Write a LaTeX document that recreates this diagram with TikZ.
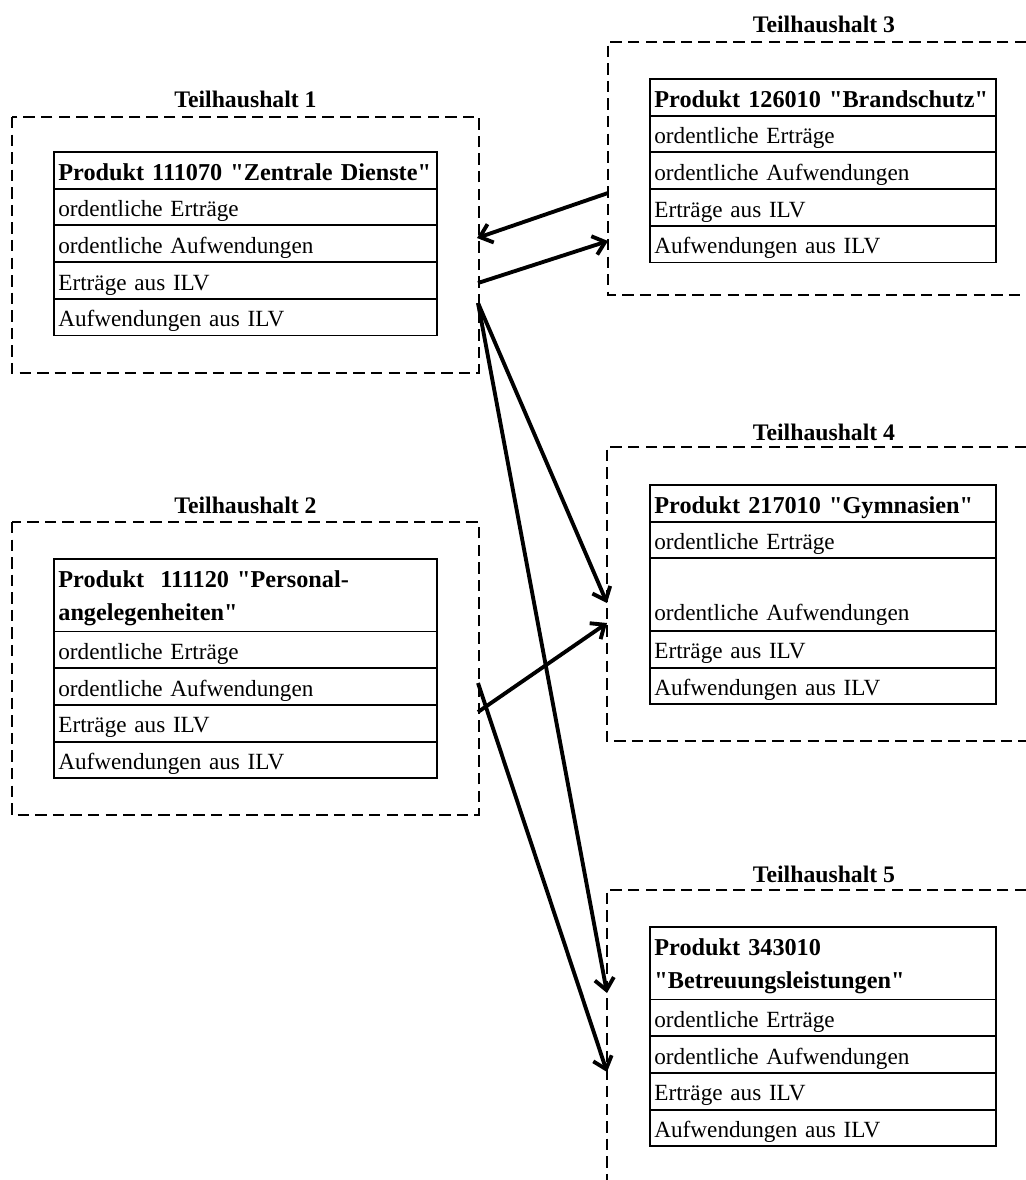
\documentclass[tikz,border=0pt]{standalone}
\usepackage{fontspec}
\setmainfont{Liberation Serif}[Ligatures=TeXOff]
\usetikzlibrary{positioning,arrows.meta}

\tikzset{
  thframe/.style={line width=1.6pt, dash pattern=on 6.5pt off 3.5pt},
  thlabel/.style={font=\bfseries\fontsize{13.5}{16}\selectfont, anchor=base},
  row/.style={draw, line width=1.1pt, outer sep=0pt, inner xsep=2.5pt,
    minimum height=0.734cm, text height=11.5pt, text depth=0.5pt,
    align=left, font=\fontsize{13.2}{19}\selectfont},
  wide/.style={row, text width=7.484cm},
  narrow/.style={row, text width=6.744cm},
  head/.style={font=\bfseries\fontsize{13.8}{19}\selectfont},
  tall/.style={minimum height=1.45cm, text height=11pt, text depth=20pt},
  flow/.style={line width=2.2pt, -{Straight Barb[length=6.5pt,width=11pt]}},
}

\begin{document}
\begin{tikzpicture}[x=0.02cm, y=-0.02cm]
  \useasboundingbox (0,0) rectangle (1026,1180);

  % Teilhaushalt 1
  \draw[thframe] (12,117) rectangle (479,373);
  \node[thlabel] (l1) at (245.5,107) {Teilhaushalt 1};
  \node[wide, head, anchor=north west] (p1h) at (54,152) {Produkt 111070 "Zentrale Dienste"};
  \node[wide, below=0pt of p1h] (p1a) {ordentliche Erträge};
  \node[wide, below=0pt of p1a] (p1b) {ordentliche Aufwendungen};
  \node[wide, below=0pt of p1b] (p1c) {Erträge aus ILV};
  \node[wide, below=0pt of p1c] (p1d) {Aufwendungen aus ILV};

  % Teilhaushalt 2
  \draw[thframe] (12,522) rectangle (479,815);
  \node[thlabel] (l2) at (245.5,513) {Teilhaushalt 2};
  \node[wide, head, tall, anchor=north west] (p2h) at (54,559) {Produkt\ \ 111120 "Personal-\\angelegenheiten"};
  \node[wide, below=0pt of p2h] (p2a) {ordentliche Erträge};
  \node[wide, below=0pt of p2a] (p2b) {ordentliche Aufwendungen};
  \node[wide, below=0pt of p2b] (p2c) {Erträge aus ILV};
  \node[wide, below=0pt of p2c] (p2d) {Aufwendungen aus ILV};

  % Teilhaushalt 3
  \draw[thframe] (1026,42) -- (608,42) -- (608,295) -- (1026,295);
  \node[thlabel] (l3) at (824,32) {Teilhaushalt 3};
  \node[narrow, head, anchor=north west] (p3h) at (650,79) {Produkt 126010 "Brandschutz"};
  \node[narrow, below=0pt of p3h] (p3a) {ordentliche Erträge};
  \node[narrow, below=0pt of p3a] (p3b) {ordentliche Aufwendungen};
  \node[narrow, below=0pt of p3b] (p3c) {Erträge aus ILV};
  \node[narrow, below=0pt of p3c] (p3d) {Aufwendungen aus ILV};

  % Teilhaushalt 4
  \draw[thframe] (1026,447) -- (607,447) -- (607,741) -- (1026,741);
  \node[thlabel] (l4) at (824,440) {Teilhaushalt 4};
  \node[narrow, head, anchor=north west] (p4h) at (650,485) {Produkt 217010 "Gymnasien"};
  \node[narrow, below=0pt of p4h] (p4a) {ordentliche Erträge};
  \node[narrow, tall, below=0pt of p4a] (p4b) {\mbox{}\\ordentliche Aufwendungen};
  \node[narrow, below=0pt of p4b] (p4c) {Erträge aus ILV};
  \node[narrow, below=0pt of p4c] (p4d) {Aufwendungen aus ILV};

  % Teilhaushalt 5
  \draw[thframe] (1026,890) -- (607,890) -- (607,1180);
  \node[thlabel] (l5) at (824,882) {Teilhaushalt 5};
  \node[narrow, head, tall, anchor=north west] (p5h) at (650,927) {Produkt 343010\\"Betreuungsleistungen"};
  \node[narrow, below=0pt of p5h] (p5a) {ordentliche Erträge};
  \node[narrow, below=0pt of p5a] (p5b) {ordentliche Aufwendungen};
  \node[narrow, below=0pt of p5b] (p5c) {Erträge aus ILV};
  \node[narrow, below=0pt of p5c] (p5d) {Aufwendungen aus ILV};

  % Anschlusspunkte an den Rahmen
  \coordinate (t1in)  at (477,238);
  \coordinate (t1out) at (478,283);
  \coordinate (t1low) at (478,303);
  \coordinate (t2up)  at (478,683);
  \coordinate (t2low) at (478,712);
  \coordinate (t3out) at (608,193);
  \coordinate (t3in)  at (608,241);
  \coordinate (t4a)   at (607,603);
  \coordinate (t4b)   at (607,623);
  \coordinate (t5a)   at (607,993);
  \coordinate (t5b)   at (607,1072);

  \draw[flow] (t3out) -- (t1in);
  \draw[flow] (t1out) -- (t3in);
  \draw[flow] (t1low) -- (t4a);
  \draw[flow] (t1low) -- (t5a);
  \draw[flow] (t2low) -- (t4b);
  \draw[flow] (t2up)  -- (t5b);
\end{tikzpicture}
\end{document}
